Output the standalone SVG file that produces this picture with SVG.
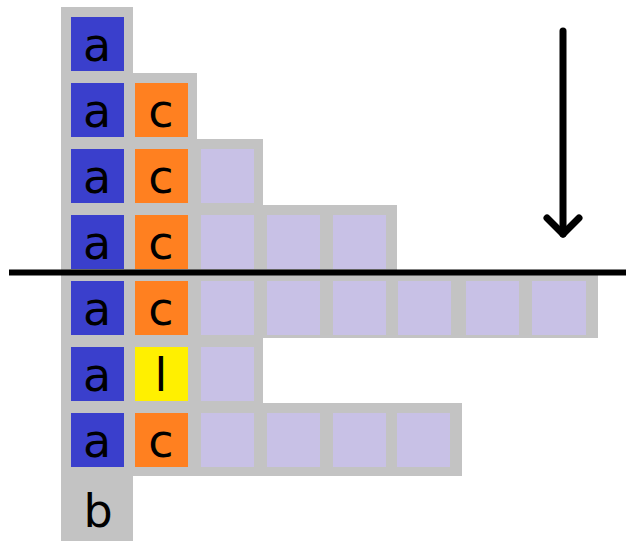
<svg xmlns="http://www.w3.org/2000/svg" width="626" height="541" viewBox="0 0 626 541">
<style>
.g{fill:#c3c3c3}
.a{fill:#3a3fcc}
.c{fill:#ff8020}
.l{fill:#fff000}
.p{fill:#c8c1e6}
text{font-family:"DejaVu Sans","Liberation Sans",sans-serif;font-size:46px;fill:#000;text-anchor:middle}
</style>
<rect width="626" height="541" fill="#fff"/>
<g id="background">
<rect class="g" x="61" y="7" width="72" height="67"/>
<rect class="g" x="61" y="73" width="136" height="67"/>
<rect class="g" x="61" y="139" width="202" height="67"/>
<rect class="g" x="61" y="205" width="336" height="67"/>
<rect class="g" x="61" y="271" width="537" height="67"/>
<rect class="g" x="61" y="337" width="202" height="67"/>
<rect class="g" x="61" y="403" width="401" height="73"/>
<rect class="g" x="61" y="469" width="72" height="72"/>
</g>
<g id="row1">
<rect class="a" x="71" y="17" width="53" height="54"/><text x="97" y="61">a</text>
</g>
<g id="row2">
<rect class="a" x="71" y="83" width="53" height="54"/><text x="97" y="127">a</text>
<rect class="c" x="135" y="83" width="53" height="54"/><text x="161" y="127">c</text>
</g>
<g id="row3">
<rect class="a" x="71" y="149" width="53" height="54"/><text x="97" y="193">a</text>
<rect class="c" x="135" y="149" width="53" height="54"/><text x="161" y="193">c</text>
<rect class="p" x="201" y="149" width="53" height="54"/>
</g>
<g id="row4">
<rect class="a" x="71" y="215" width="53" height="54"/><text x="97" y="259">a</text>
<rect class="c" x="135" y="215" width="53" height="54"/><text x="161" y="259">c</text>
<rect class="p" x="201" y="215" width="53" height="54"/>
<rect class="p" x="267" y="215" width="53" height="54"/>
<rect class="p" x="333" y="215" width="53" height="54"/>
</g>
<g id="row5">
<rect class="a" x="71" y="281" width="53" height="54"/><text x="97" y="325">a</text>
<rect class="c" x="135" y="281" width="53" height="54"/><text x="161" y="325">c</text>
<rect class="p" x="201" y="281" width="53" height="54"/>
<rect class="p" x="267" y="281" width="53" height="54"/>
<rect class="p" x="333" y="281" width="53" height="54"/>
<rect class="p" x="398" y="281" width="53" height="54"/>
<rect class="p" x="466" y="281" width="53" height="54"/>
<rect class="p" x="532" y="281" width="54" height="54"/>
</g>
<g id="row6">
<rect class="a" x="71" y="347" width="53" height="54"/><text x="97" y="391">a</text>
<rect class="l" x="135" y="347" width="53" height="54"/><text x="161" y="391">l</text>
<rect class="p" x="201" y="347" width="53" height="54"/>
</g>
<g id="row7">
<rect class="a" x="71" y="413" width="53" height="54"/><text x="97" y="457">a</text>
<rect class="c" x="135" y="413" width="53" height="54"/><text x="161" y="457">c</text>
<rect class="p" x="201" y="413" width="53" height="54"/>
<rect class="p" x="267" y="413" width="53" height="54"/>
<rect class="p" x="333" y="413" width="53" height="54"/>
<rect class="p" x="397" y="413" width="53" height="54"/>
</g>
<g id="row8">
<text x="98" y="527">b</text>
</g>
<g id="connectors" stroke="#000" fill="none" stroke-linecap="round" stroke-linejoin="round">
<line x1="9" y1="272.5" x2="626" y2="272.5" stroke-width="6" stroke-linecap="butt"/>
<line x1="563" y1="31" x2="563" y2="234" stroke-width="7"/>
<polyline points="547,218 563,234 579,218" stroke-width="7"/>
</g>
</svg>
